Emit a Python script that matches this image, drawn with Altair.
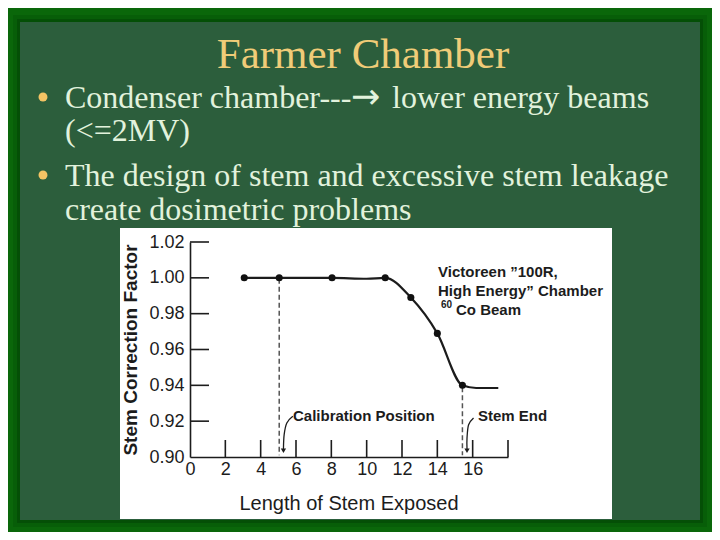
import altair as alt
import pandas as pd

# ---------------- data ----------------
length_pts = [3.07, 5.05, 8.04, 11.05, 12.5, 14.0, 15.42]
factor_pts = [1.000, 1.000, 1.000, 1.000, 0.989, 0.969, 0.940]

curve_length = [3.07, 5.05, 8.04, 10.0, 11.05, 12.5, 14.0, 15.42, 16.2, 17.45]
curve_factor = [1.000, 1.000, 1.000, 0.9995, 1.000, 0.989, 0.969, 0.940, 0.9385, 0.9385]

x_tick_values = [2, 4, 6, 8, 10, 12, 14, 16, 18]
x_label_values = [0, 2, 4, 6, 8, 10, 12, 14, 16]
y_tick_values = [0.92, 0.94, 0.96, 0.98, 1.00, 1.02]
y_label_values = [0.90, 0.92, 0.94, 0.96, 0.98, 1.00, 1.02]

marker_x = [5.05, 15.42]
marker_top = [0.9995, 0.939]
marker_bottom = [0.901, 0.901]

calib_leader_x = [5.82, 5.48, 5.33, 5.29]
calib_leader_y = [0.9227, 0.919, 0.9125, 0.9045]
stem_leader_x = [16.05, 15.77, 15.68, 15.68]
stem_leader_y = [0.9218, 0.918, 0.9106, 0.9045]
arrow_x = [5.29, 15.68]
arrow_y = [0.9035, 0.9035]

slide_title = "Farmer Chamber"
line1_parts = ["Condenser chamber---", "\u2192", "lower energy beams"]
bullet_lines = [
    "(<=2MV)",
    "The design of stem and excessive stem leakage",
    "create dosimetric problems",
]
y_title = "Stem Correction Factor"
x_title = "Length of Stem Exposed"
note_lines = ["Victoreen \u201d100R,", "High Energy\u201d Chamber"]
note_sup = "60"
note_beam = "Co Beam"
calib_label = "Calibration Position"
stem_label = "Stem End"

# ---------------- helpers ----------------
W, H = 318, 215
xs = alt.Scale(domain=[0, 18], nice=False, zero=False)
ys = alt.Scale(domain=[0.90, 1.02], nice=False, zero=False)
INK = "#1c1c1c"
SANS = "Liberation Sans"
SERIF = "Liberation Serif"

xa = alt.Axis(values=x_label_values, title=None, grid=False, ticks=False, tickSize=0,
              domainColor=INK, domainWidth=1.6, labelColor=INK, labelFont=SANS,
              labelFontSize=18, labelPadding=3, labelFlush=False, labelOverlap=False,
              zindex=2)
ya = alt.Axis(values=y_label_values, title=None, grid=False, ticks=False, tickSize=0,
              format=".2f", domainColor=INK, domainWidth=1.6, labelColor=INK,
              labelFont=SANS, labelFontSize=18, labelPadding=6, labelFlush=False,
              labelOverlap=False, zindex=2)

one = pd.DataFrame({"k": [0]})


def rect(x1, x2, y1, y2, color):
    return alt.Chart(one).mark_rect(color=color).encode(
        x=alt.value(x1), x2=alt.value(x2), y=alt.value(y1), y2=alt.value(y2))


def text(t, x, y, size, color, font, weight="normal", align="left",
         baseline="alphabetic", angle=0):
    return alt.Chart(pd.DataFrame({"t": [t]})).mark_text(
        align=align, baseline=baseline, font=font, fontSize=size,
        fontWeight=weight, color=color, angle=angle).encode(
        x=alt.value(x), y=alt.value(y), text="t:N")


layers = []
# slide background pieces (pixel positions relative to the plot area)
layers.append(rect(-177, 517, -227, 285, "#075e08"))
layers.append(rect(-173, 513, -223, 281, "#044f06"))
layers.append(rect(-170, 510, -220, 278, "#2c5e3c"))
layers.append(rect(-70, 422, -14, 277, "#ffffff"))

# slide title and bullets
TXT = "#e2f2dc"
layers.append(text(slide_title, 173, -174, 43, "#f0cc78", SERIF, align="center"))
for by in [-145, -67]:
    layers.append(alt.Chart(one).mark_circle(size=80, color="#f4c464", opacity=1).encode(
        x=alt.value(-147), y=alt.value(by)))
layers.append(text(line1_parts[0], -125, -134, 32, TXT, SERIF))
layers.append(text(line1_parts[1], 161, -134, 35, TXT, "DejaVu Sans"))
layers.append(text(line1_parts[2], 202, -134, 32, TXT, SERIF))
for t, ly in zip(bullet_lines, [-101, -56, -22]):
    layers.append(text(t, -125, ly, 32, TXT, SERIF))

# tick marks pointing inward
yt = pd.DataFrame({"v": y_tick_values})
layers.append(alt.Chart(yt).mark_rule(color=INK, strokeWidth=1.6).encode(
    y=alt.Y("v:Q", scale=ys, axis=ya), x=alt.value(0), x2=alt.value(19)))
xt = pd.DataFrame({"v": x_tick_values})
layers.append(alt.Chart(xt).mark_rule(color=INK, strokeWidth=1.6).encode(
    x=alt.X("v:Q", scale=xs, axis=xa), y=alt.value(H), y2=alt.value(H - 17)))

# dashed marker lines
mk = pd.DataFrame({"x": marker_x, "y": marker_top, "y2": marker_bottom})
layers.append(alt.Chart(mk).mark_rule(color="#555555", strokeWidth=1.5,
                                      strokeDash=[5, 3]).encode(
    x=alt.X("x:Q", scale=xs, axis=xa), y=alt.Y("y:Q", scale=ys, axis=ya), y2="y2:Q"))

# curve and points
cv = pd.DataFrame({"x": curve_length, "y": curve_factor})
layers.append(alt.Chart(cv).mark_line(color=INK, strokeWidth=2.2,
                                      interpolate="monotone").encode(
    x=alt.X("x:Q", scale=xs, axis=xa), y=alt.Y("y:Q", scale=ys, axis=ya)))
pt = pd.DataFrame({"x": length_pts, "y": factor_pts})
layers.append(alt.Chart(pt).mark_circle(color="#111111", size=50, opacity=1).encode(
    x=alt.X("x:Q", scale=xs, axis=xa), y=alt.Y("y:Q", scale=ys, axis=ya)))

# leader arrows
for lx, ly in [(calib_leader_x, calib_leader_y), (stem_leader_x, stem_leader_y)]:
    ld = pd.DataFrame({"x": lx, "y": ly, "o": list(range(len(lx)))})
    layers.append(alt.Chart(ld).mark_line(color=INK, strokeWidth=1.3,
                                          interpolate="cardinal").encode(
        x=alt.X("x:Q", scale=xs, axis=xa), y=alt.Y("y:Q", scale=ys, axis=ya),
        order="o:Q"))
ar = pd.DataFrame({"x": arrow_x, "y": arrow_y})
layers.append(alt.Chart(ar).mark_point(shape="triangle-down", filled=True, size=28,
                                       color=INK, opacity=1).encode(
    x=alt.X("x:Q", scale=xs, axis=xa), y=alt.Y("y:Q", scale=ys, axis=ya)))

# chart annotations
layers.append(text(calib_label, 103, 174, 15, INK, SANS, "bold", baseline="middle"))
layers.append(text(stem_label, 288, 174, 15, INK, SANS, "bold", baseline="middle"))
layers.append(text(note_lines[0], 248, 30, 15, INK, SANS, "bold", baseline="middle"))
layers.append(text(note_lines[1], 248, 49, 15, INK, SANS, "bold", baseline="middle"))
layers.append(text(note_sup, 251, 63, 10, INK, SANS, "bold", baseline="middle"))
layers.append(text(note_beam, 266, 68, 15, INK, SANS, "bold", baseline="middle"))

# axis titles
layers.append(text(y_title, -59, 108, 19, INK, SANS, "bold", align="center",
                   baseline="middle", angle=270))
layers.append(text(x_title, 159, 262, 20, INK, SANS, align="center", baseline="middle"))

chart = alt.layer(*layers).properties(
    width=W, height=H,
    autosize=alt.AutoSizeParams(type="none"),
    padding={"left": 182, "top": 234, "right": 204, "bottom": 75},
    background="#0a670a",
).configure_view(stroke=None)

chart.save("out.html", embed_options={"renderer": "svg", "actions": False})
